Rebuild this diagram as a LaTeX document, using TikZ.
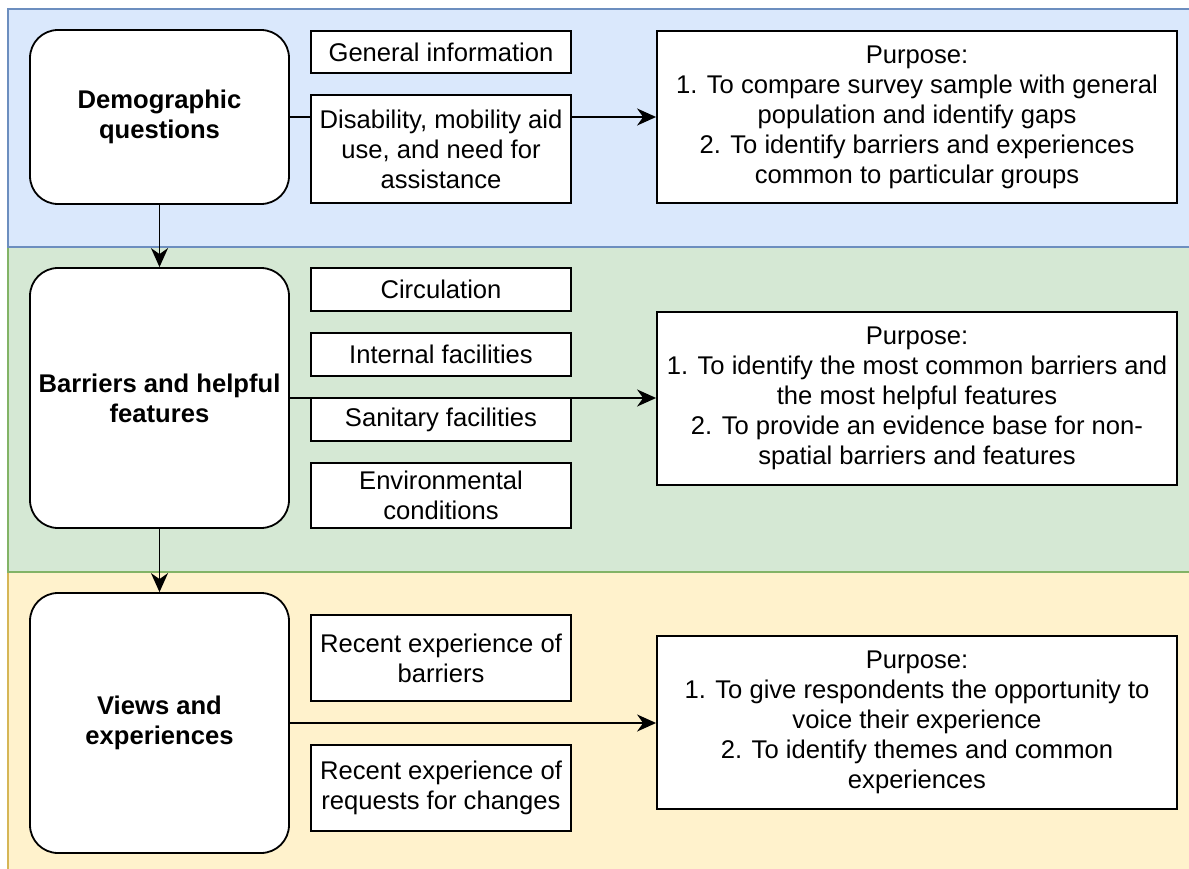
\documentclass[tikz,border=0pt]{standalone}
\usepackage{fontspec}
\setmainfont{Liberation Sans}
\usetikzlibrary{arrows.meta}
\definecolor{bluefill}{HTML}{DAE8FC}
\definecolor{bluestroke}{HTML}{6C8EBF}
\definecolor{greenfill}{HTML}{D5E8D4}
\definecolor{greenstroke}{HTML}{82B366}
\definecolor{yellowfill}{HTML}{FFF2CC}
\definecolor{yellowstroke}{HTML}{D6B656}
\begin{document}
\begin{tikzpicture}[x=1pt,y=-1pt,
  every node/.style={font=\fontsize{25.6}{30}\selectfont, inner sep=0pt, align=center},
  mainbox/.style={draw, line width=1.8pt, rounded corners=28pt, fill=white, minimum width=259pt, font=\fontsize{25.6}{30}\selectfont\bfseries},
  subbox/.style={draw, line width=1.8pt, fill=white, minimum width=260pt},
  purpbox/.style={draw, line width=1.8pt, fill=white, minimum width=520pt},
  band/.style={line width=1.8pt},
  arr/.style={line width=1.8pt, -{Stealth[length=19pt,width=17pt,inset=6pt]}},
  conn/.style={line width=1.8pt}
]
\useasboundingbox (0,0) rectangle (1189,869);
\begin{scope}
\clip (0,0) rectangle (1189,869);
\draw[band, fill=yellowfill, draw=yellowstroke] (8,572) rectangle (1200,880);
\draw[band, fill=greenfill, draw=greenstroke] (8,247) rectangle (1200,572);
\draw[band, fill=bluefill, draw=bluestroke] (8,9) rectangle (1200,247);
\end{scope}

% main boxes
\node[mainbox, minimum height=174pt] (dem) at (159.5,117) {Demographic\\questions};
\node[mainbox, minimum height=260pt] (bar) at (159.5,398) {Barriers and helpful\\features};
\node[mainbox, minimum height=260pt] (view) at (159.5,723) {Views and\\experiences};

% sub boxes
\node[subbox, minimum height=42pt] (gen) at (441,52) {General information};
\node[subbox, minimum height=108pt] (dis) at (441,149) {Disability, mobility aid\\use, and need for\\assistance};
\node[subbox, minimum height=43pt] (circ) at (441,289.5) {Circulation};
\node[subbox, minimum height=43pt] (intf) at (441,354.5) {Internal facilities};
\node[subbox, minimum height=43pt] (sanf) at (441,419.5) {Sanitary facilities};
\node[subbox, minimum height=65pt] (env) at (441,495.5) {Environmental\\conditions};
\node[subbox, minimum height=86pt] (rb) at (441,658) {Recent experience of\\barriers};
\node[subbox, minimum height=86pt] (rr) at (441,788) {Recent experience of\\requests for changes};

% purpose boxes
\node[purpbox, minimum height=172pt] (p1) at (917,117) {Purpose:\\1. To compare survey sample with general\\population and identify gaps\\2. To identify barriers and experiences\\common to particular groups};
\node[purpbox, minimum height=173pt] (p2) at (917,398.5) {Purpose:\\1. To identify the most common barriers and\\the most helpful features\\2. To provide an evidence base for non-\\spatial barriers and features};
\node[purpbox, minimum height=173pt] (p3) at (917,722.5) {Purpose:\\1. To give respondents the opportunity to\\voice their experience\\2. To identify themes and common\\experiences};

% connectors
\draw[conn] (dem.east) -- (dem.east -| dis.west);
\draw[arr] (p1.west -| dis.east) -- (p1.west);
\draw[arr] (bar.east) -- (bar.east -| p2.west);
\draw[arr] (view.east) -- (view.east -| p3.west);
\draw[arr] (dem.south) -- (bar.north);
\draw[arr] (bar.south) -- (view.north);
\end{tikzpicture}
\end{document}
